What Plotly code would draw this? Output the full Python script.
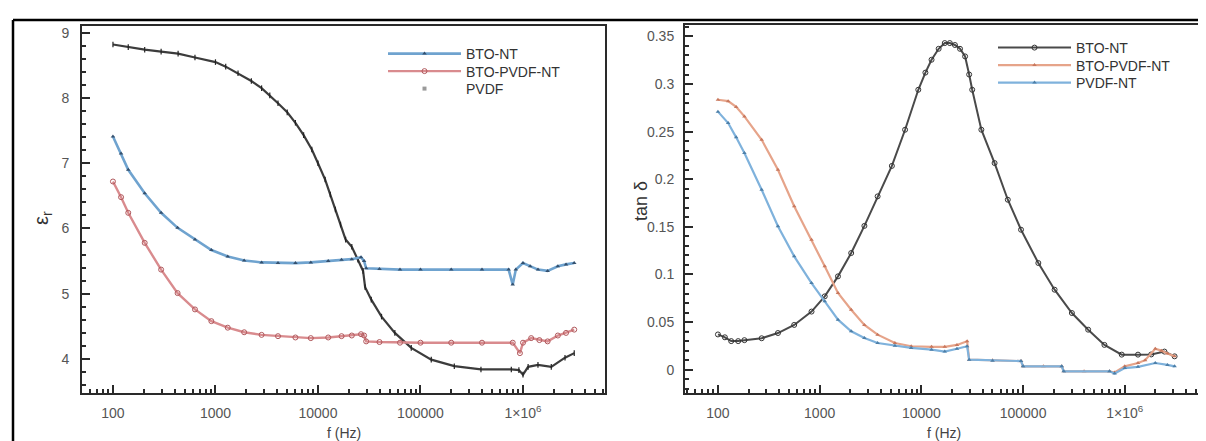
import plotly.graph_objects as go

W, H = 1206, 441

def px(x):
    return x / W

def py(y):
    return 1 - y / H

# ---------------- data: left panel (relative permittivity) ----------------
f_eps_black = [100, 141, 204, 295, 432, 631, 1000, 1259, 1660, 2239, 2818, 3388, 4074, 5012,
               6026, 7244, 8710, 10000, 11750, 13180, 14790, 16600, 18620, 21380, 24550, 27540,
               28840, 33110, 41690, 56230, 81280, 127400, 213800, 389000, 769100, 912000,
               1000000, 1122000, 1400000, 1888000, 2570000, 3162000]
eps_black = [8.82, 8.78, 8.74, 8.71, 8.68, 8.62, 8.55, 8.48, 8.38, 8.26, 8.15, 8.04, 7.92, 7.78,
             7.62, 7.43, 7.21, 7.00, 6.75, 6.52, 6.29, 6.06, 5.83, 5.72, 5.52, 5.35,
             5.10, 4.91, 4.65, 4.40, 4.17, 3.99, 3.89, 3.84, 3.84, 3.83,
             3.76, 3.88, 3.91, 3.88, 4.02, 4.09]

f_eps_blue = [100, 120, 141, 204, 295, 427, 631, 912, 1318, 1905, 2818, 4074, 6026, 8511, 12590,
              16980, 21380, 26300, 28180, 29510, 39810, 63100, 100000, 199500, 398100, 724400,
              794300, 851100, 1000000, 1175000, 1400000, 1738000, 2188000, 2630000, 3162000]
eps_blue = [7.41, 7.15, 6.90, 6.54, 6.24, 6.01, 5.83, 5.67, 5.57, 5.51, 5.48, 5.47, 5.47, 5.48, 5.50,
            5.52, 5.53, 5.56, 5.50, 5.39, 5.38, 5.37, 5.37, 5.37, 5.37, 5.37,
            5.14, 5.37, 5.47, 5.42, 5.37, 5.35, 5.42, 5.45, 5.47]

f_eps_red = [100, 120, 141, 204, 295, 427, 631, 912, 1318, 1905, 2818, 4074, 6026, 8511, 12590,
             16980, 21380, 26300, 28180, 29510, 39810, 63100, 100000, 199500, 398100, 794300,
             933300, 1000000, 1202000, 1445000, 1738000, 2188000, 2630000, 3162000]
eps_red = [6.72, 6.48, 6.24, 5.78, 5.37, 5.01, 4.76, 4.58, 4.48, 4.41, 4.37, 4.35, 4.33, 4.32, 4.33,
           4.35, 4.36, 4.38, 4.36, 4.27, 4.26, 4.25, 4.25, 4.25, 4.25, 4.25,
           4.09, 4.25, 4.32, 4.29, 4.27, 4.36, 4.40, 4.45]

# ---------------- data: right panel (loss tangent) ----------------
f_tan_bto = [100, 117, 135, 158, 182, 269, 389, 562, 832, 1122, 1514, 2042, 2754, 3715, 5129, 6918,
             9333, 10960, 12590, 14790, 16980, 19050, 21380, 23990, 26920, 29510, 31620, 38900,
             52480, 70790, 95500, 141300, 204200, 302000, 436500, 631000, 933300, 1349000,
             1820000, 2455000, 3090000]
tan_bto = [0.037, 0.034, 0.030, 0.030, 0.031, 0.033, 0.0385, 0.047, 0.061, 0.077, 0.098, 0.1225,
           0.151, 0.182, 0.214, 0.252, 0.294, 0.312, 0.3255, 0.337, 0.343, 0.343, 0.341, 0.337,
           0.329, 0.310, 0.294, 0.252, 0.217, 0.1785, 0.147, 0.112, 0.084, 0.0595, 0.042, 0.026,
           0.0158, 0.0158, 0.016, 0.019, 0.014]

f_tan_btopvdf = [100, 126, 151, 182, 269, 389, 562, 832, 1122, 1514, 2042, 2754, 3715, 5495, 7943,
                 12590, 16980, 22390, 28180, 29510, 50120, 95500, 100000, 158500, 239900, 251200,
                 398100, 707900, 794300, 1000000, 1349000, 1585000, 1995000, 2291000, 2630000,
                 3090000]
tan_btopvdf = [0.2835, 0.282, 0.276, 0.266, 0.2415, 0.210, 0.1716, 0.1365, 0.1086, 0.0805, 0.063,
               0.047, 0.0368, 0.028, 0.0246, 0.024, 0.024, 0.026, 0.0298, 0.0105, 0.010, 0.009,
               0.0035, 0.0035, 0.0035, -0.0017, -0.0017, -0.0017, -0.003, 0.0035, 0.007, 0.010,
               0.022, 0.020, 0.017, 0.014]

f_tan_pvdf = [100, 126, 151, 182, 269, 389, 562, 832, 1122, 1514, 2042, 2754, 3715, 5495, 7943,
              12590, 16980, 22390, 28180, 29510, 50120, 95500, 100000, 239900, 251200, 707900,
              794300, 1000000, 1349000, 1995000, 2630000, 3090000]
tan_pvdf = [0.271, 0.259, 0.244, 0.2275, 0.189, 0.1506, 0.119, 0.091, 0.0718, 0.0525, 0.0403,
            0.0333, 0.028, 0.025, 0.0228, 0.021, 0.019, 0.022, 0.0246, 0.0105, 0.0095, 0.009,
            0.0035, 0.0035, -0.0017, -0.0017, -0.004, 0.0017, 0.003, 0.007, 0.005, 0.0035]

x_tickvals = [100, 1000, 10000, 100000, 1000000]
x_ticktext = ["100", "1000", "10000", "100000", "1×10<sup>6</sup>"]

FONT = "Liberation Sans, Arial, sans-serif"
LEG_FONT = "Liberation Sans, Arial, sans-serif"

fig = go.Figure()

# left panel
fig.add_trace(go.Scatter(
    x=f_eps_black, y=eps_black, mode="lines+markers", name="PVDF", showlegend=False,
    line=dict(color="#3c3c3c", width=2.2), marker=dict(size=4, color="#222222", symbol="line-ns-open",
                                                      line=dict(width=1.2, color="#222222")),
    xaxis="x", yaxis="y"))
fig.add_trace(go.Scatter(
    x=f_eps_blue, y=eps_blue, mode="lines+markers", name="BTO-NT",
    line=dict(color="#6fa3cf", width=2.6), marker=dict(size=4, color="#34506e", symbol="triangle-up"),
    xaxis="x", yaxis="y", legend="legend"))
fig.add_trace(go.Scatter(
    x=f_eps_red, y=eps_red, mode="lines+markers", name="BTO-PVDF-NT",
    line=dict(color="#d98b8e", width=2.4), marker=dict(size=5, color="#b0585c", symbol="circle-open"),
    xaxis="x", yaxis="y", legend="legend3"))
fig.add_trace(go.Scatter(
    x=[None], y=[None], mode="markers", name="PVDF",
    marker=dict(size=4, color="#9a9a9a", symbol="square"),
    xaxis="x", yaxis="y", legend="legend4"))

# right panel
fig.add_trace(go.Scatter(
    x=f_tan_bto, y=tan_bto, mode="lines+markers", name="BTO-NT",
    line=dict(color="#4a4a4a", width=2), marker=dict(size=5, color="#333333", symbol="circle-open"),
    xaxis="x2", yaxis="y2", legend="legend2"))
fig.add_trace(go.Scatter(
    x=f_tan_btopvdf, y=tan_btopvdf, mode="lines+markers", name="BTO-PVDF-NT",
    line=dict(color="#e6a48a", width=2.2), marker=dict(size=4, color="#c8785e", symbol="triangle-up"),
    xaxis="x2", yaxis="y2", legend="legend5"))
fig.add_trace(go.Scatter(
    x=f_tan_pvdf, y=tan_pvdf, mode="lines+markers", name="PVDF-NT",
    line=dict(color="#7fb2dc", width=2.2), marker=dict(size=4, color="#4d7fa8", symbol="triangle-up"),
    xaxis="x2", yaxis="y2", legend="legend6"))

axis_common = dict(
    showgrid=False, zeroline=False, showline=True, linecolor="#2a2a2a", linewidth=2,
    mirror=True, ticks="inside", ticklen=8, tickwidth=1.5, tickcolor="#2a2a2a",
    tickfont=dict(family=FONT, size=14, color="#555555"),
)


def leg(xpx, ypx):
    return dict(x=px(xpx), y=py(ypx), xanchor="left", yanchor="middle", bgcolor="rgba(0,0,0,0)",
                font=dict(family=LEG_FONT, size=14, color="#333333"), itemwidth=73,
                borderwidth=0)


fig.update_layout(
    width=W, height=H,
    margin=dict(l=0, r=0, t=0, b=0),
    paper_bgcolor="white", plot_bgcolor="white",
    font=dict(family=FONT, color="#333333"),
    xaxis=dict(type="log", domain=[px(74), px(597)], range=[1.698, 6.80], anchor="y",
               tickvals=x_tickvals, ticktext=x_ticktext, ticklabelstandoff=6,
               minor=dict(ticks="inside", ticklen=4, tickcolor="#2a2a2a", dtick="D1", showgrid=False),
               **axis_common),
    yaxis=dict(domain=[py(385), py(18)], range=[3.479, 9.103], anchor="x",
               dtick=1, tick0=0, ticklabelstandoff=8,
               minor=dict(ticks="inside", ticklen=4, tickcolor="#2a2a2a", dtick=0.2, showgrid=False),
               **axis_common),
    xaxis2=dict(type="log", domain=[px(677), px(1196)], range=[1.676, 6.779], anchor="y2",
                tickvals=x_tickvals, ticktext=x_ticktext, ticklabelstandoff=6,
                minor=dict(ticks="inside", ticklen=4, tickcolor="#2a2a2a", dtick="D1", showgrid=False),
                **axis_common),
    yaxis2=dict(domain=[py(385), py(17)], range=[-0.0245, 0.362], anchor="x2",
                dtick=0.05, tick0=0, ticklabelstandoff=6,
                minor=dict(ticks="inside", ticklen=4, tickcolor="#2a2a2a", dtick=0.01, showgrid=False),
                **axis_common),
    legend=leg(375, 46),
    legend3=leg(375, 63.5),
    legend4=leg(375, 81),
    legend2=leg(985, 40),
    legend5=leg(985, 57.5),
    legend6=leg(985, 75),
    showlegend=True,
)

annotations = [
    dict(text="f (Hz)", x=px(336), y=py(425), xref="paper", yref="paper", showarrow=False,
         font=dict(family=FONT, size=14, color="#444444"), xanchor="center", yanchor="middle"),
    dict(text="f (Hz)", x=px(936), y=py(425), xref="paper", yref="paper", showarrow=False,
         font=dict(family=FONT, size=14, color="#444444"), xanchor="center", yanchor="middle"),
    dict(text="ε<sub>r</sub>", x=px(34), y=py(210), xref="paper", yref="paper", showarrow=False,
         textangle=-90, font=dict(family=FONT, size=20, color="#333333"),
         xanchor="center", yanchor="middle"),
    dict(text="tan δ", x=px(633), y=py(193), xref="paper", yref="paper", showarrow=False,
         textangle=-90, font=dict(family=FONT, size=18, color="#333333"),
         xanchor="center", yanchor="middle"),
]
fig.update_layout(annotations=annotations)

fig.update_layout(shapes=[
    dict(type="line", xref="paper", yref="paper", x0=px(5), x1=1, y0=py(12), y1=py(12),
         line=dict(color="black", width=2.5)),
    dict(type="line", xref="paper", yref="paper", x0=px(5), x1=px(5), y0=py(12), y1=0,
         line=dict(color="black", width=2.5)),
])

fig.write_html("out.html")
